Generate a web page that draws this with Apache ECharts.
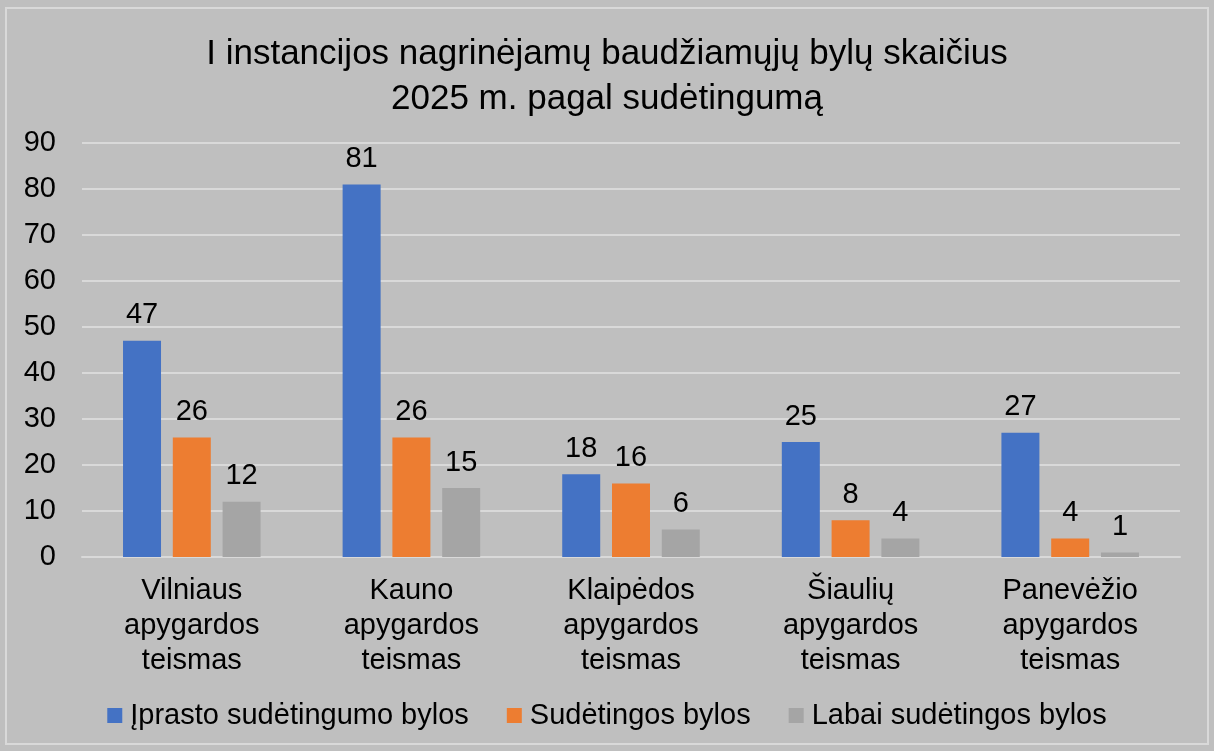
<!DOCTYPE html>
<html>
<head>
<meta charset="utf-8">
<script src="https://cdn.jsdelivr.net/npm/echarts@6/dist/echarts.min.js"></script>
<style>
html,body{margin:0;padding:0;background:#bfbfbf;}
#chart{width:1214px;height:751px;}
</style>
</head>
<body>
<div id="chart"></div>
<script>
// teismai ir reikšmės
var categories = ['Vilniaus\napygardos\nteismas', 'Kauno\napygardos\nteismas', 'Klaipėdos\napygardos\nteismas', 'Šiaulių\napygardos\nteismas', 'Panevėžio\napygardos\nteismas'];
var seriesNames = ['Įprasto sudėtingumo bylos', 'Sudėtingos bylos', 'Labai sudėtingos bylos'];
var iprasto = [47, 81, 18, 25, 27];
var sudetingos = [26, 26, 16, 8, 4];
var labai = [12, 15, 6, 4, 1];
var colors = ['#4472c4', '#ed7d31', '#a5a5a5'];

var font = 'Liberation Sans, Arial, sans-serif';

function bar(name, data, color) {
	return {
		name: name,
		type: 'bar',
		data: data,
		barWidth: 38,
		barGap: '31%',
		itemStyle: { color: color },
		label: {
			show: true,
			position: 'top',
			distance: 11,
			color: '#000',
			fontSize: 29,
			fontFamily: font
		}
	};
}

var myChart = echarts.init(document.getElementById('chart'));
myChart.setOption({
	backgroundColor: '#bfbfbf',
	animation: false,
	title: {
		text: 'I instancijos nagrinėjamų baudžiamųjų bylų skaičius\n2025 m. pagal sudėtingumą',
		left: 'center',
		top: 27,
		textStyle: {
			fontSize: 35,
			fontWeight: 'normal',
			color: '#000',
			fontFamily: font,
			lineHeight: 45
		}
	},
	graphic: [{
		type: 'rect',
		shape: { x: 6, y: 8, width: 1202, height: 736 },
		style: { fill: 'none', stroke: '#d9d9d9', lineWidth: 2 },
		silent: true
	}],
	legend: {
		bottom: 16,
		left: 'center',
		itemWidth: 15,
		itemHeight: 15,
		itemGap: 38,
		icon: 'rect',
		textStyle: { fontSize: 29, color: '#000', fontFamily: font, padding: [0, 0, 0, 3] },
		data: seriesNames
	},
	grid: { left: 82, right: 34, top: 143, bottom: 194 },
	xAxis: {
		type: 'category',
		data: categories,
		axisLine: { lineStyle: { color: '#d9d9d9', width: 2 } },
		axisTick: { show: false },
		axisLabel: {
			color: '#000',
			fontSize: 29,
			fontFamily: font,
			lineHeight: 35,
			margin: 16,
			interval: 0
		}
	},
	yAxis: {
		type: 'value',
		min: 0,
		max: 90,
		interval: 10,
		axisLine: { show: false },
		axisTick: { show: false },
		splitLine: { lineStyle: { color: '#d9d9d9', width: 2 } },
		axisLabel: { color: '#000', fontSize: 29, fontFamily: font, margin: 26 }
	},
	series: [
		bar(seriesNames[0], iprasto, colors[0]),
		bar(seriesNames[1], sudetingos, colors[1]),
		bar(seriesNames[2], labai, colors[2])
	]
});
</script>
</body>
</html>
